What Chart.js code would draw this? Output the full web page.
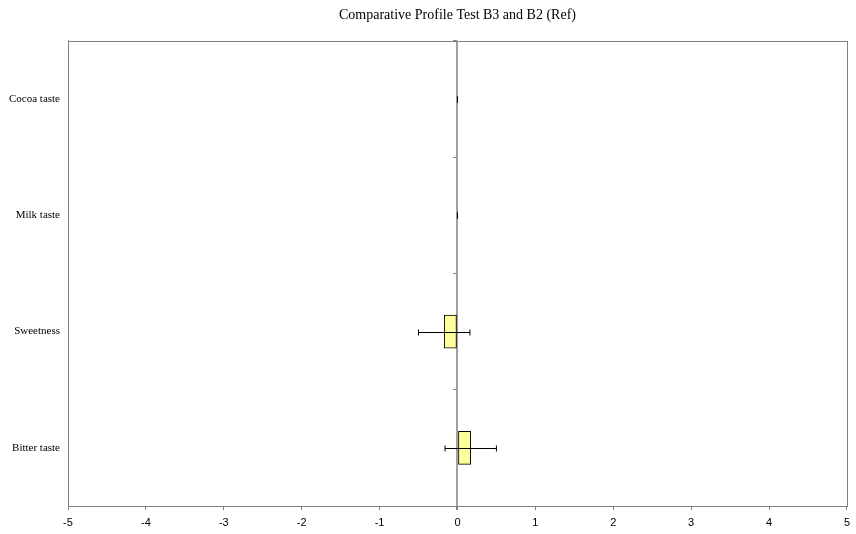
<!DOCTYPE html>
<html>
<head>
<meta charset="utf-8">
<script src="https://cdn.jsdelivr.net/npm/chart.js@4.4.1/dist/chart.umd.min.js"></script>
<style>
  html, body { margin: 0; padding: 0; background: #fff; }
  #wrap { width: 856px; height: 534px; }
</style>
</head>
<body>
<div id="wrap"><canvas id="profileChart" width="856" height="534"></canvas></div>
<script>
// profile attributes and mean differences B3 vs B2
const attributes = ["Cocoa taste", "Milk taste", "Sweetness", "Bitter taste"];
const differences = [0, 0, -0.17, 0.17];
const errors = [0, 0, 0.33, 0.33];
const xTicks = [-5, -4, -3, -2, -1, 0, 1, 2, 3, 4, 5];

// draws the +/- error whiskers with small caps
const errorBars = {
  id: "errorBars",
  afterDatasetsDraw(chart) {
    const { ctx, scales: { x, y } } = chart;
    ctx.save();
    ctx.strokeStyle = "#000";
    ctx.lineWidth = 1;
    differences.forEach((v, i) => {
      const py = Math.round(y.getPixelForValue(i)) + 0.5;
      const x0 = x.getPixelForValue(v - errors[i]);
      const x1 = x.getPixelForValue(v + errors[i]);
      ctx.beginPath();
      ctx.moveTo(x0, py);
      ctx.lineTo(x1, py);
      ctx.moveTo(x0, py - 3);
      ctx.lineTo(x0, py + 3);
      ctx.moveTo(x1, py - 3);
      ctx.lineTo(x1, py + 3);
      ctx.stroke();
    });
    ctx.restore();
  }
};

// grey frame round the plot area
const plotFrame = {
  id: "plotFrame",
  beforeDatasetsDraw(chart) {
    const { ctx, chartArea: a } = chart;
    ctx.save();
    ctx.strokeStyle = "#808080";
    ctx.lineWidth = 1;
    ctx.strokeRect(Math.round(a.left) + 0.5, Math.round(a.top) + 0.5,
      Math.round(a.right - a.left), Math.round(a.bottom - a.top));
    ctx.restore();
  }
};

new Chart(document.getElementById("profileChart"), {
  type: "bar",
  data: {
    labels: attributes,
    datasets: [{
      data: differences,
      backgroundColor: "#ffff99",
      borderColor: "#000",
      borderWidth: 1,
      borderSkipped: false,
      barThickness: 33
    }]
  },
  options: {
    indexAxis: "y",
    responsive: false,
    animation: false,
    layout: { padding: { left: 0, right: 5, top: 0, bottom: 0 } },
    plugins: {
      legend: { display: false },
      tooltip: { enabled: false },
      title: {
        display: true,
        fullSize: false,
        text: "Comparative Profile Test B3 and B2 (Ref)",
        color: "#000",
        font: { family: "Liberation Serif", size: 14, weight: "normal" },
        padding: { top: 7, bottom: 17 }
      }
    },
    scales: {
      x: {
        min: -5,
        max: 5,
        afterBuildTicks(scale) { scale.ticks = xTicks.map(v => ({ value: v })); },
        afterFit(scale) { scale.height = 28; },
        grid: {
          drawOnChartArea: true,
          color: ctx => ctx.tick && ctx.tick.value === 0 ? "#a0a0a0" : "rgba(0,0,0,0)",
          lineWidth: ctx => ctx.tick && ctx.tick.value === 0 ? 2 : 1,
          tickColor: "#808080",
          tickLength: 4
        },
        border: { color: "#808080" },
        ticks: {
          color: "#000",
          padding: 6,
          font: { family: "Liberation Sans", size: 11 }
        }
      },
      y: {
        grid: { display: false, drawTicks: false },
        border: { color: "#808080" },
        afterFit(scale) { scale.width = 68; },
        ticks: {
          color: "#000",
          padding: 8,
          font: { family: "Liberation Serif", size: 11 }
        }
      },
      yZero: {
        type: "category",
        labels: attributes,
        position: { x: 0 },
        offset: true,
        grid: { drawOnChartArea: false, offset: true, tickLength: 4, color: "#808080" },
        border: { display: false },
        ticks: { display: false }
      }
    }
  },
  plugins: [plotFrame, errorBars]
});
</script>
</body>
</html>
